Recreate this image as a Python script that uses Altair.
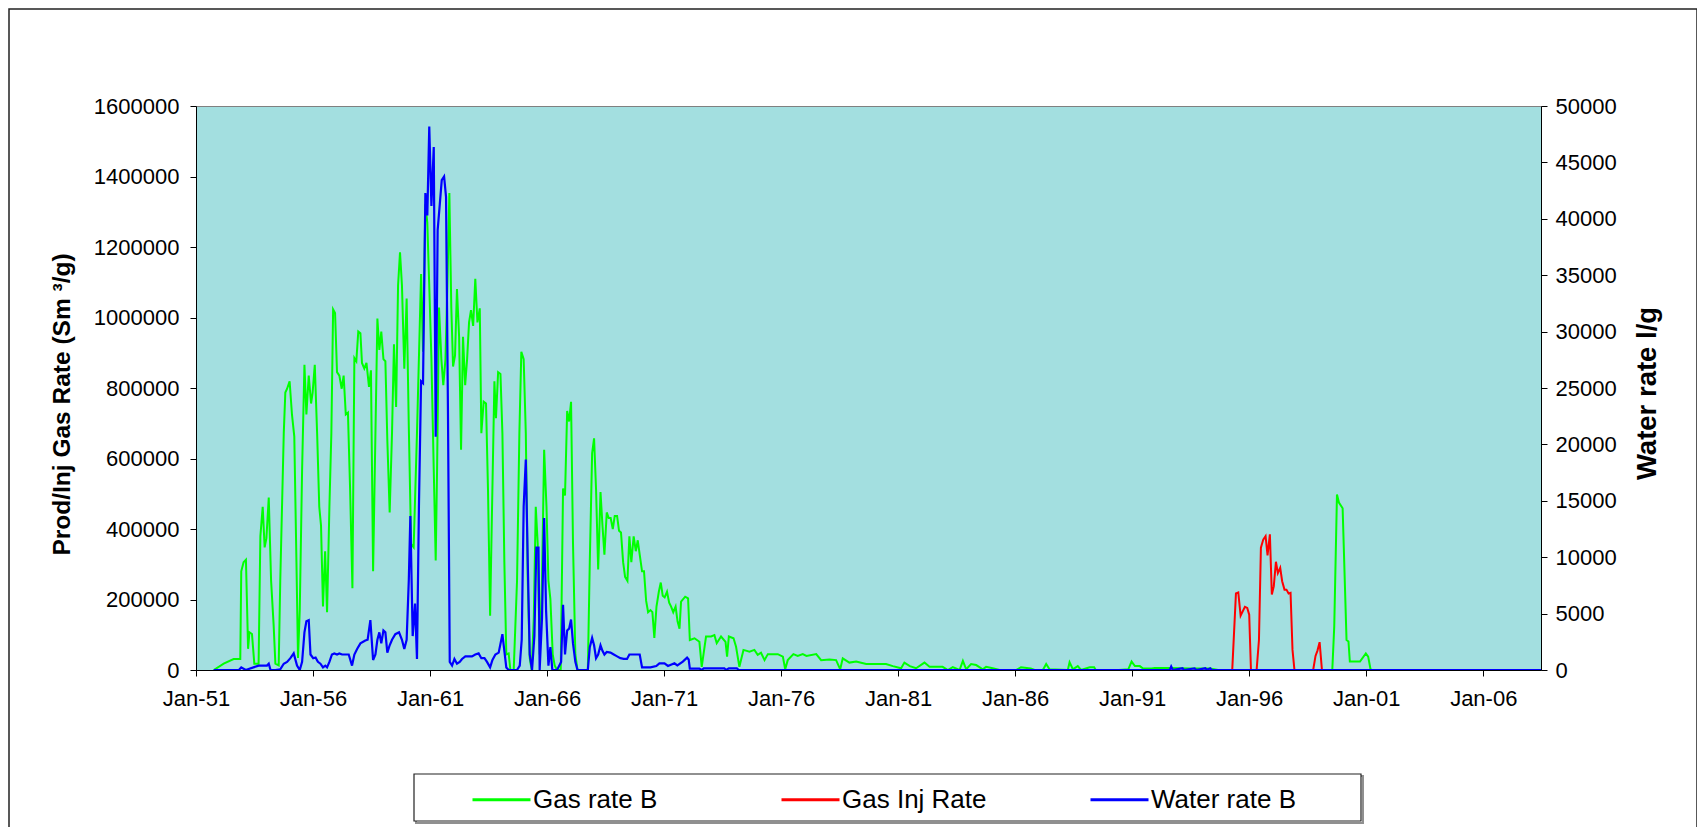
import altair as alt
import pandas as pd
import numpy as np

# ---------------- data (months since Jan-1951, rate) ----------------
gas_b_month = [9.1, 14.2, 19.3, 22.7, 23.2, 24.4, 25.6, 26.7, 27.4, 28.7, 29.9, 32.1, 33.0, 34.2, 35.2, 36.1,
               37.3, 38.5, 39.8, 40.7, 42.4, 43.2, 45.0, 45.8, 46.7, 48.0, 49.2, 50.4, 51.5, 52.3, 53.2, 54.4,
               55.6, 56.6, 57.8, 59.0, 59.8, 60.9, 62.1, 63.2, 64.1, 65.1, 66.2, 67.2, 68.4, 69.4, 70.3, 71.3,
               72.3, 73.5, 74.7, 75.7, 76.8, 77.9, 79.0, 80.2, 81.2, 82.2, 83.2, 84.3, 85.1, 86.3, 87.4, 88.7,
               89.7, 90.8, 92.0, 93.0, 94.0, 95.0, 96.1, 97.1, 98.1, 99.3, 100.5, 101.5, 102.6, 103.6, 104.6,
               105.6, 106.8, 108.0, 109.1, 110.3, 111.6, 113.3, 115.4, 116.4, 117.6, 118.6, 119.7, 120.7, 121.9,
               122.9, 123.6, 124.6, 125.8, 126.8, 127.9, 128.9, 129.9, 130.9, 131.8, 132.8, 133.8, 134.9, 135.9,
               136.9, 138.0, 139.0, 140.0, 141.0, 142.1, 143.2, 144.3, 145.5, 146.3, 147.5, 148.7, 149.7, 150.8,
               151.8, 153.0, 153.8, 154.9, 156.1, 157.1, 158.1, 159.1, 160.3, 161.2, 162.9, 164.6, 165.8, 166.8,
               168.0, 169.1, 170.1, 171.1, 172.1, 173.2, 174.2, 175.2, 176.2, 177.4, 178.5, 179.7, 180.7, 181.7,
               182.9, 183.9, 185.1, 187.0, 188.2, 189.2, 190.3, 191.3, 192.3, 193.3, 194.5, 195.6, 200.9, 201.9,
               203.1, 204.1, 205.1, 206.2, 207.4, 208.4, 209.4, 210.6, 211.6, 212.6, 213.7, 214.7, 215.9, 216.9,
               217.9, 219.0, 220.0, 221.2, 222.2, 223.2, 224.4, 225.5, 226.5, 227.5, 228.7, 229.7, 230.8, 231.8,
               233.0, 234.0, 235.0, 236.1, 237.3, 238.3, 239.3, 240.3, 241.5, 242.6, 243.6, 244.7, 245.9, 246.9,
               247.9, 248.7, 250.8, 252.3, 253.2, 255.6, 258.1, 259.3, 261.5, 264.1, 265.8, 267.0, 269.2, 271.5,
               272.3, 273.2, 275.6, 276.9, 278.6, 280.7, 283.8, 286.3, 288.0, 289.7, 291.5, 293.2, 298.3, 300.9,
               302.1, 303.4, 306.3, 308.5, 311.1, 313.0, 318.0, 320.5, 324.8, 328.2, 330.3, 331.6, 335.0, 338.5,
               343.6, 353.8, 357.3, 361.5, 363.2, 366.0, 369.2, 373.5, 376.1, 382.8, 385.5, 388.0, 391.5, 393.2,
               394.9, 397.4, 400.0, 403.4, 405.1, 408.5, 412.0, 420.5, 423.0, 428.0, 430.0, 434.2, 435.9, 437.6,
               447.0, 447.9, 449.6, 452.1, 453.8, 458.2, 460.5, 461.3, 473.2, 478.0, 479.7, 481.4, 483.9, 485.6,
               490.0, 491.6, 499.3, 510.0, 520.0, 524.0, 582.6, 583.6, 585.0, 586.0, 587.9, 589.9, 590.9, 591.6,
               596.8, 599.8, 601.0, 602.2, 603.0, 690.0]
gas_b_rate = [0, 18000, 31000, 31000, 280000, 306000, 313000, 60000, 107000, 102000, 18000, 18000, 379000, 463000,
              348000, 374000, 489000, 253000, 128000, 18000, 13000, 253000, 672000, 787000, 798000, 819000, 725000,
              662000, 306000, 34000, 170000, 568000, 866000, 725000, 835000, 756000, 787000, 866000, 672000, 463000,
              410000, 180000, 337000, 164000, 463000, 672000, 1023000, 1013000, 845000, 835000, 798000, 835000,
              725000, 730000, 515000, 232000, 885000, 876000, 960000, 955000, 871000, 855000, 871000, 803000,
              850000, 280000, 672000, 997000, 908000, 960000, 882000, 876000, 651000, 447000, 672000, 924000,
              746000, 1091000, 1185000, 1091000, 855000, 1054000, 693000, 358000, 348000, 672000, 1123000, 903000,
              1321000, 1269000, 1070000, 882000, 568000, 311000, 568000, 1028000, 882000, 808000, 882000, 1091000,
              1353000, 1028000, 861000, 892000, 1081000, 945000, 625000, 945000, 808000, 882000, 986000, 1021000,
              976000, 1110000, 986000, 1026000, 672000, 761000, 756000, 515000, 154000, 463000, 819000, 714000,
              845000, 840000, 672000, 306000, 44000, 47000, 0, 0, 253000, 672000, 903000, 882000, 672000, 253000,
              34000, 0, 148000, 463000, 358000, 44000, 253000, 625000, 463000, 253000, 201000, 44000, 13000, 0, 0,
              515000, 495000, 735000, 705000, 761000, 358000, 44000, 0, 0, 306000, 615000, 657000, 515000, 285000,
              505000, 410000, 327000, 447000, 431000, 431000, 400000, 437000, 437000, 395000, 390000, 306000,
              264000, 253000, 379000, 306000, 379000, 337000, 368000, 327000, 280000, 280000, 196000, 164000,
              170000, 164000, 91000, 180000, 222000, 248000, 211000, 206000, 222000, 191000, 180000, 164000,
              180000, 138000, 117000, 194000, 208000, 203000, 85000, 90000, 80000, 9000, 95000, 95000, 99000,
              76000, 95000, 80000, 38000, 95000, 90000, 66000, 9000, 57000, 52000, 57000, 43000, 49000, 28000,
              45000, 45000, 38000, 2000, 28000, 45000, 40000, 45000, 40000, 45000, 28000, 30000, 28000, 2000,
              33000, 21000, 24000, 17000, 17000, 11000, 5000, 21000, 11000, 5000, 21000, 9000, 9000, 0, 8000, 0,
              26000, 2000, 17000, 14000, 2000, 9000, 5000, 0, 0, 8000, 4000, 0, 0, 17000, 2000, 0, 22000, 2000,
              11000, 0, 8000, 8000, 0, 0, 2000, 24000, 11000, 11000, 4000, 4000, 6000, 6000, 4000, 4000, 0, 0,
              123000, 498000, 475000, 459000, 85000, 81000, 24000, 24000, 47000, 38000, 2000, 0, 0]

gas_inj_month = [531.3, 533.2, 534.4, 535.6, 537.8, 539.0, 540.0, 540.9, 543.8, 545.0, 546.0, 547.2, 548.4,
                 549.4, 550.6, 551.6, 552.6, 553.7, 554.7, 555.9, 556.9, 558.1, 559.1, 560.2, 561.2, 562.2,
                 563.2, 572.8, 574.0, 575.0, 576.1, 577.3]
gas_inj_rate = [0, 217000, 220000, 154000, 179000, 176000, 157000, 0, 0, 85000, 347000, 370000, 380000, 325000,
                385000, 214000, 237000, 307000, 275000, 290000, 252000, 228000, 228000, 217000, 219000, 57000, 0,
                0, 40000, 55000, 79000, 0]

water_b_month = [9.1, 22.0, 23.2, 25.5, 32.1, 36.4, 37.3, 38.2, 40.7, 43.2, 45.0, 46.7, 48.4, 50.1, 51.8, 53.2,
                 54.4, 55.6, 56.6, 57.8, 58.7, 60.1, 61.3, 62.5, 63.8, 65.1, 66.3, 67.2, 68.4, 69.7, 70.9, 72.3,
                 73.5, 74.9, 76.6, 78.3, 80.0, 81.2, 82.6, 84.3, 86.8, 88.0, 89.4, 90.8, 92.0, 93.0, 94.0, 95.0,
                 96.1, 97.1, 98.1, 99.3, 100.5, 102.2, 104.1, 105.6, 106.8, 108.0, 109.1, 109.9, 111.1, 112.3,
                 113.3, 114.3, 115.4, 116.4, 117.6, 118.6, 119.6, 120.7, 121.9, 122.9, 123.9, 125.0, 126.0, 127.2,
                 128.2, 129.2, 130.1, 131.3, 132.5, 133.8, 135.2, 136.4, 138.1, 139.3, 141.5, 143.2, 144.9, 146.3,
                 147.9, 149.2, 150.8, 152.0, 153.5, 155.2, 157.1, 158.1, 159.1, 160.3, 164.6, 166.0, 167.0, 168.0,
                 169.1, 170.1, 171.1, 172.3, 173.5, 174.5, 175.6, 176.2, 177.4, 178.5, 179.5, 180.7, 181.7, 182.7,
                 185.1, 187.2, 188.2, 189.2, 190.3, 191.3, 192.3, 193.3, 194.5, 195.6, 200.9, 201.9, 203.1, 204.1,
                 205.1, 206.2, 207.4, 208.4, 209.4, 210.6, 212.5, 214.2, 215.9, 217.6, 219.3, 221.0, 222.2, 223.6,
                 225.3, 227.5, 228.7, 233.0, 236.0, 237.6, 240.2, 242.0, 245.3, 246.8, 249.6, 251.8, 252.6, 253.2,
                 258.1, 259.3, 260.3, 270.9, 271.8, 273.2, 277.3, 278.3, 499.3, 500.0, 500.8, 505.8, 506.5, 512.0,
                 512.8, 517.5, 518.3, 520.0, 520.8, 690.0]
water_b_rate = [0, 0, 230, 0, 390, 390, 556, 0, 0, 60, 556, 720, 1047, 1472, 390, 0, 720, 3338, 4320, 4418, 1374,
                1047, 1112, 720, 556, 230, 390, 230, 720, 1374, 1472, 1374, 1472, 1374, 1374, 1374, 390, 1374, 1865,
                2356, 2618, 2683, 4418, 883, 1374, 2683, 3338, 2356, 3500, 3338, 1538, 2192, 2683, 3174, 3338, 2683,
                1865, 2683, 7920, 13645, 3010, 5890, 980, 14460, 25590, 25430, 42280, 40300, 48170, 41130, 46370,
                20680, 39000, 41300, 43430, 43750, 41950, 22640, 720, 390, 980, 556, 720, 980, 1210, 1210, 1210,
                1374, 1472, 1047, 1047, 720, 230, 883, 1374, 1538, 3174, 1702, 230, 0, 0, 390, 2683, 14460, 18650,
                9550, 1374, 0, 3010, 10860, 10860, 0, 4580, 13480, 5240, 390, 2029, 0, 0, 720, 5790, 1374, 3500,
                3664, 4480, 2356, 720, 0, 0, 2029, 2845, 2192, 1047, 1374, 2192, 1702, 1374, 1603, 1538, 1374, 1210,
                1047, 980, 980, 1374, 1374, 1374, 1374, 230, 230, 355, 590, 590, 355, 590, 400, 740, 1093, 940, 120,
                120, 0, 150, 150, 0, 150, 150, 0, 0, 300, 0, 150, 0, 150, 0, 150, 0, 150, 0, 0]

series_names = ["Gas rate B", "Gas Inj Rate", "Water rate B"]
series_colors = ["#00FF00", "#FF0000", "#0000FF"]
x_tick_years = list(range(1951, 2007, 5))
left_ticks = list(range(0, 1600001, 200000))
right_ticks = list(range(0, 50001, 5000))


def to_dates(months):
    base = pd.Timestamp("1951-01-01")
    return base + pd.to_timedelta(np.array(months) * (365.25 / 12), unit="D")


gas_df = pd.concat([
    pd.DataFrame({"date": to_dates(gas_b_month), "value": gas_b_rate, "series": series_names[0]}),
    pd.DataFrame({"date": to_dates(gas_inj_month), "value": gas_inj_rate, "series": series_names[1]}),
], ignore_index=True)
water_df = pd.DataFrame({"date": to_dates(water_b_month), "value": water_b_rate, "series": series_names[2]})

FONT = "Liberation Sans"
W, H = 1345, 564

color_scale = alt.Scale(domain=series_names, range=series_colors)
legend = alt.Legend(
    orient="none", legendX=275, legendY=663, direction="horizontal", columns=3, title=None,
    symbolType="stroke", symbolSize=3364, symbolStrokeWidth=3, labelFontSize=26, labelFont=FONT,
    labelColor="black", labelOffset=1, columnPadding=97, gridAlign="all", padding=0, labelLimit=400,
)

x_enc = alt.X(
    "date:T",
    scale=alt.Scale(domain=[alt.DateTime(year=1951, month=1, date=1), alt.DateTime(year=2008, month=6, date=20)]),
    axis=alt.Axis(
        values=[alt.DateTime(year=y, month=1, date=1) for y in x_tick_years], format="%b-%y", title=None,
        grid=False, labelFontSize=22, labelFont=FONT, labelColor="black", tickSize=6, labelPadding=12,
        domainColor="black", tickColor="black", labelFlush=False, labelOverlap=False,
    ),
)

gas = alt.Chart(gas_df).mark_line(strokeWidth=2, clip=True).encode(
    x=x_enc,
    y=alt.Y(
        "value:Q",
        scale=alt.Scale(domain=[0, 1600000], nice=False),
        axis=alt.Axis(
            values=left_ticks, format="d", title="Prod/Inj Gas Rate (Sm ³/g)", grid=False,
            labelFontSize=22, labelFont=FONT, labelColor="black", tickSize=6, labelPadding=11,
            domainColor="black", tickColor="black", titleFont=FONT, titleFontSize=24.5, titleFontWeight="bold",
            titleColor="black", titleAngle=270, titleX=-134, titleY=298, titleBaseline="middle",
            titleAlign="center",
        ),
    ),
    color=alt.Color("series:N", scale=color_scale, legend=legend, sort=series_names),
)

water = alt.Chart(water_df).mark_line(strokeWidth=2.2, clip=True).encode(
    x=x_enc,
    y=alt.Y(
        "value:Q",
        scale=alt.Scale(domain=[0, 50000], nice=False),
        axis=alt.Axis(
            orient="right", values=right_ticks, format="d", title="Water rate l/g", grid=False,
            labelFontSize=22, labelFont=FONT, labelColor="black", tickSize=6, labelPadding=8,
            domainColor="black", tickColor="black", titleFont=FONT, titleFontSize=27.5, titleFontWeight="bold",
            titleColor="black", titleAngle=270, titleX=106, titleY=287, titleBaseline="middle",
            titleAlign="center",
        ),
    ),
    color=alt.Color("series:N", scale=color_scale, legend=legend, sort=series_names),
)

one = pd.DataFrame({"k": [0]})
frame = alt.Chart(one).mark_rect(filled=False, stroke="#222222", strokeWidth=1.5).encode(
    x=alt.value(-187), x2=alt.value(1501), y=alt.value(-97), y2=alt.value(760)
)
box_shadow = alt.Chart(one).mark_rect(filled=False, stroke="#909090", strokeWidth=2).encode(
    x=alt.value(220), x2=alt.value(1167), y=alt.value(670), y2=alt.value(717)
)
box = alt.Chart(one).mark_rect(fill="white", stroke="#222222", strokeWidth=1.2).encode(
    x=alt.value(218), x2=alt.value(1165), y=alt.value(668), y2=alt.value(715)
)

chart = alt.layer(frame, box_shadow, box, gas, water).resolve_scale(y="independent").properties(
    width=W, height=H,
    autosize=alt.AutoSizeParams(type="none"),
    padding={"left": 188, "top": 98, "right": 156, "bottom": 157},
    background="white",
).configure_view(fill="#A3DFE0", stroke="#808080", strokeWidth=1)

chart.save("out.html", embed_options={"renderer": "svg", "actions": False})
